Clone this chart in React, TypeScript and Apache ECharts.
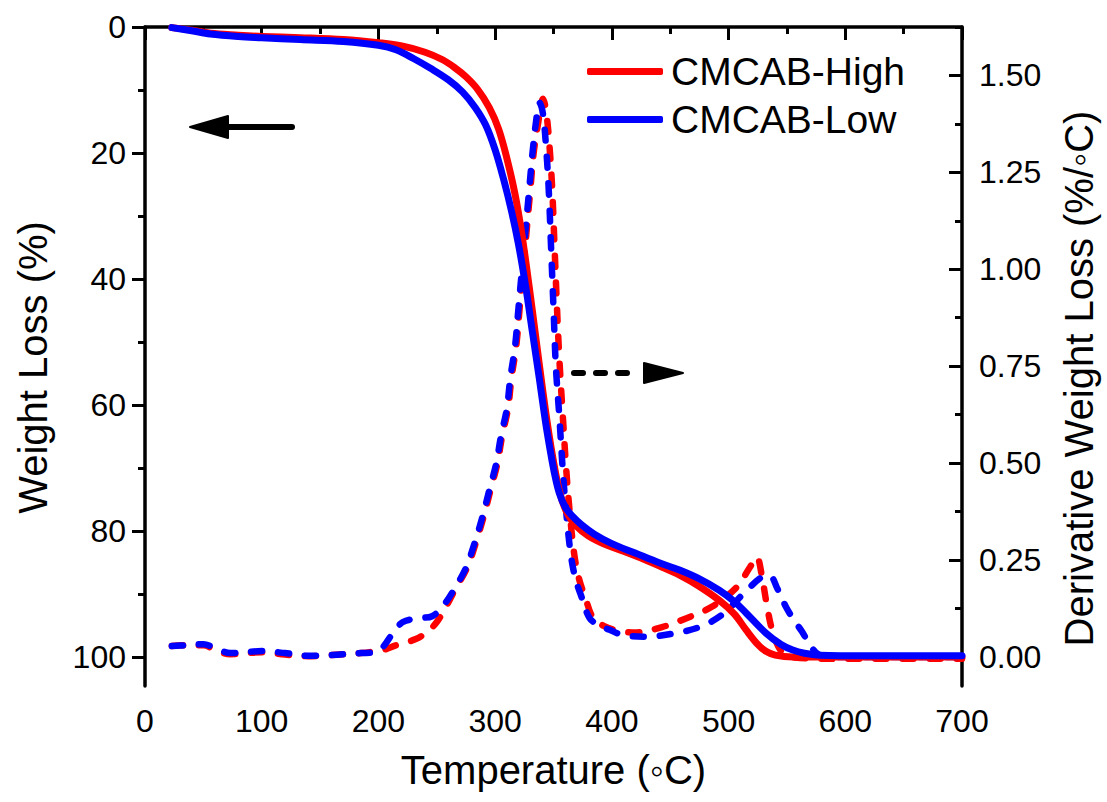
import React, { useEffect, useRef } from "react";
import * as echarts from "echarts";

// TGA (weight loss, %) — temperatures (°C) and values
const tgaHighT = [23, 40, 56, 80, 100, 133, 170, 200, 220, 240, 255, 265, 275, 285, 295, 303, 310, 317, 323, 329, 335, 341, 346, 350, 354, 358, 363, 370, 380, 395, 410, 425, 440, 458, 475, 492, 505, 515, 525, 532, 540, 555, 620, 700];
const tgaHighW = [0.1, 0.5, 1.0, 1.3, 1.5, 1.7, 2.0, 2.5, 3.0, 4.0, 5.2, 6.4, 7.9, 9.9, 12.8, 16.2, 20.8, 26.5, 33, 41, 49.5, 58, 64.5, 69, 72.8, 75.5, 77.6, 79.3, 80.8, 82.2, 83.2, 84.3, 85.5, 87, 88.8, 91, 93.2, 95.7, 98, 99.1, 99.7, 100, 100, 100];
const tgaLowT = [23, 40, 56, 80, 100, 133, 170, 200, 215, 230, 245, 260, 272, 283, 292, 300, 307, 314, 320, 326, 332, 338, 343, 347, 351, 355, 360, 366, 374, 385, 400, 420, 440, 458, 475, 492, 505, 515, 532, 545, 555, 565, 578, 620, 700];
const tgaLowW = [0.1, 0.6, 1.1, 1.5, 1.7, 2.0, 2.3, 2.9, 3.6, 5.0, 6.6, 8.4, 10.3, 12.8, 15.6, 19.5, 24, 29.2, 34.5, 41, 48.5, 56, 62.5, 67, 71, 74, 76.2, 77.6, 79, 80.5, 82, 83.5, 85, 86.2, 87.6, 89.4, 91.2, 93, 96.2, 98, 98.9, 99.4, 99.7, 99.8, 99.8];

// DTG (derivative weight loss, %/°C)
const dtgHighT = [23, 35, 50, 62, 73, 100, 120, 140, 160, 185, 204, 215, 232, 242, 250, 258, 265, 276, 283, 290, 296, 302, 306, 311, 314, 318, 321, 324, 327, 330, 333, 337, 341, 344, 347, 349, 351, 353, 355, 358, 361, 364, 368, 372, 377, 384, 393, 405, 420, 443, 464, 486, 507, 518, 524, 529, 533, 538, 545, 552, 600, 700];
const dtgHighD = [0.028, 0.03, 0.03, 0.015, 0.007, 0.012, 0.006, 0.002, 0.005, 0.01, 0.018, 0.03, 0.046, 0.065, 0.09, 0.13, 0.17, 0.23, 0.29, 0.36, 0.43, 0.5, 0.57, 0.64, 0.72, 0.8, 0.9, 1.0, 1.1, 1.2, 1.3, 1.38, 1.44, 1.4, 1.3, 1.2, 1.05, 0.9, 0.77, 0.62, 0.48, 0.37, 0.26, 0.2, 0.155, 0.1, 0.08, 0.068, 0.063, 0.077, 0.1, 0.13, 0.18, 0.23, 0.258, 0.2, 0.13, 0.062, 0.015, 0.0, -0.005, -0.005];
const dtgLowT = [23, 35, 50, 62, 73, 100, 120, 140, 160, 185, 197, 204, 212, 221, 235, 246, 255, 264, 275, 282, 289, 295, 301, 305, 310, 313, 317, 320, 323, 326, 329, 332, 335, 338, 341, 344, 346, 348, 350, 352, 355, 358, 361, 365, 369, 374, 381, 390, 398, 409, 430, 452, 475, 495, 515, 528, 535, 542, 549, 556, 563, 570, 578, 600, 700];
const dtgLowD = [0.028, 0.03, 0.033, 0.02, 0.01, 0.015, 0.01, 0.003, 0.005, 0.01, 0.012, 0.026, 0.06, 0.09, 0.1, 0.105, 0.13, 0.17, 0.23, 0.29, 0.36, 0.43, 0.5, 0.57, 0.64, 0.72, 0.8, 0.9, 1.0, 1.1, 1.2, 1.3, 1.38, 1.43, 1.4, 1.3, 1.2, 1.05, 0.9, 0.75, 0.62, 0.48, 0.37, 0.26, 0.2, 0.155, 0.1, 0.08, 0.07, 0.057, 0.052, 0.06, 0.077, 0.11, 0.17, 0.205, 0.21, 0.175, 0.13, 0.095, 0.065, 0.03, 0.005, 0.0, 0.0];

// Axis ticks
const leftMajor = [0, 20, 40, 60, 80, 100];
const leftMinor = [10, 30, 50, 70, 90];
const rightMajor = [0, 0.25, 0.5, 0.75, 1.0, 1.25, 1.5];
const rightMinor = [0.125, 0.375, 0.625, 0.875, 1.125, 1.375, 1.625];

const seriesNames = ["CMCAB-High", "CMCAB-Low"];
const RED = "#ff0000";
const BLUE = "#0000ff";
const FONT = "'Liberation Sans', Arial, sans-serif";

const zip = (a: number[], b: number[]) => a.map((v, i) => [v, b[i]]);

export default function App() {
  const ref = useRef<HTMLDivElement>(null);
  useEffect(() => {
    if (!ref.current) return;
    const chart = echarts.init(ref.current, undefined, { renderer: "svg" });
    const axisLine = { show: true, lineStyle: { color: "#000", width: 3.5 } };
    const hidden = { show: false };
    const solid = (name: string, color: string, t: number[], w: number[]) => ({
      name,
      type: "line",
      yAxisIndex: 0,
      data: zip(t, w),
      showSymbol: false,
      symbol: "none",
      smooth: 0.35,
      lineStyle: { color, width: 7, cap: "round", join: "round" },
      itemStyle: { color },
      z: 3,
    });
    const dashed = (name: string, color: string, t: number[], d: number[]) => ({
      name,
      type: "line",
      yAxisIndex: 1,
      data: zip(t, d),
      showSymbol: false,
      symbol: "none",
      smooth: 0.35,
      lineStyle: { color, width: 6.5, type: [11, 16], cap: "round", join: "round" },
      itemStyle: { color },
      z: 3,
    });
    chart.setOption({
      animation: false,
      backgroundColor: "#fff",
      grid: { left: 145, right: 143, top: 27, bottom: 116, containLabel: false },
      legend: {
        data: seriesNames.map((n) => ({ name: n, icon: "roundRect" })),
        orient: "vertical",
        left: 582,
        top: 47,
        itemWidth: 76,
        itemHeight: 7,
        itemGap: 9,
        textStyle: { fontSize: 39, color: "#000", fontFamily: FONT, padding: [0, 0, 0, 3] },
      },
      xAxis: {
        type: "value",
        min: 0,
        max: 700,
        interval: 100,
        name: "Temperature (\u25E6C)",
        nameLocation: "middle",
        nameGap: 64,
        nameTextStyle: { fontSize: 40, color: "#000", fontFamily: FONT },
        axisLine,
        axisTick: { show: true, inside: false, length: 13, lineStyle: { color: "#000", width: 3 } },
        minorTick: { show: true, splitNumber: 2, length: 7, lineStyle: { color: "#000", width: 3 } },
        axisLabel: { fontSize: 32, color: "#000", fontFamily: FONT, margin: 19 },
        splitLine: hidden,
        minorSplitLine: hidden,
      },
      yAxis: [
        {
          type: "value",
          position: "left",
          inverse: true,
          min: 0,
          max: 104.6,
          name: "Weight Loss (%)",
          nameLocation: "middle",
          nameRotate: 90,
          nameGap: 92,
          nameTextStyle: { fontSize: 40, color: "#000", fontFamily: FONT, padding: [0, 22, 0, 0] },
          axisLine,
          axisTick: { show: true, inside: false, length: 13, customValues: leftMajor, lineStyle: { color: "#000", width: 3 } },
          axisLabel: { fontSize: 32, color: "#000", fontFamily: FONT, margin: 19, customValues: leftMajor },
          splitLine: hidden,
        },
        {
          type: "value",
          position: "right",
          min: -0.075,
          max: 1.625,
          name: "Derivative Weight Loss (%/\u25E6C)",
          nameLocation: "middle",
          nameRotate: 90,
          nameGap: 97,
          nameTextStyle: { fontSize: 40, color: "#000", fontFamily: FONT, padding: [0, 44, 0, 0] },
          axisLine,
          axisTick: { show: true, inside: true, length: 13, customValues: rightMajor, lineStyle: { color: "#000", width: 3 } },
          axisLabel: {
            fontSize: 32,
            color: "#000",
            fontFamily: FONT,
            margin: 17,
            customValues: rightMajor,
            formatter: (v: number) => v.toFixed(2),
          },
          splitLine: hidden,
        },
        {
          type: "value",
          position: "left",
          inverse: true,
          min: 0,
          max: 104.6,
          axisLine: hidden,
          axisTick: { show: true, inside: false, length: 7, customValues: leftMinor, lineStyle: { color: "#000", width: 3 } },
          axisLabel: hidden,
          splitLine: hidden,
        },
        {
          type: "value",
          position: "right",
          min: -0.075,
          max: 1.625,
          axisLine: hidden,
          axisTick: { show: true, inside: true, length: 7, customValues: rightMinor, lineStyle: { color: "#000", width: 3 } },
          axisLabel: hidden,
          splitLine: hidden,
        },
      ],
      series: [
        dashed("CMCAB-High DTG", RED, dtgHighT, dtgHighD),
        dashed("CMCAB-Low DTG", BLUE, dtgLowT, dtgLowD),
        solid(seriesNames[0], RED, tgaHighT, tgaHighW),
        solid(seriesNames[1], BLUE, tgaLowT, tgaLowW),
      ],
      graphic: [
        { type: "line", shape: { x1: 292, y1: 127, x2: 222, y2: 127 }, style: { stroke: "#000", lineWidth: 6, lineCap: "round" }, z: 10 },
        { type: "polygon", shape: { points: [[190, 127], [228, 116], [228, 138]] }, style: { fill: "#000", stroke: "#000", lineWidth: 2, lineJoin: "round" }, z: 10 },
        { type: "line", shape: { x1: 574, y1: 373, x2: 640, y2: 373 }, style: { stroke: "#000", lineWidth: 6, lineCap: "round", lineDash: [9, 13] }, z: 10 },
        { type: "polygon", shape: { points: [[683, 373], [644, 363], [644, 383]] }, style: { fill: "#000", stroke: "#000", lineWidth: 2, lineJoin: "round" }, z: 10 },
      ],
    });
    return () => chart.dispose();
  }, []);
  return <div ref={ref} style={{ position: "fixed", left: 0, top: 0, width: 1107, height: 802 }} />;
}
